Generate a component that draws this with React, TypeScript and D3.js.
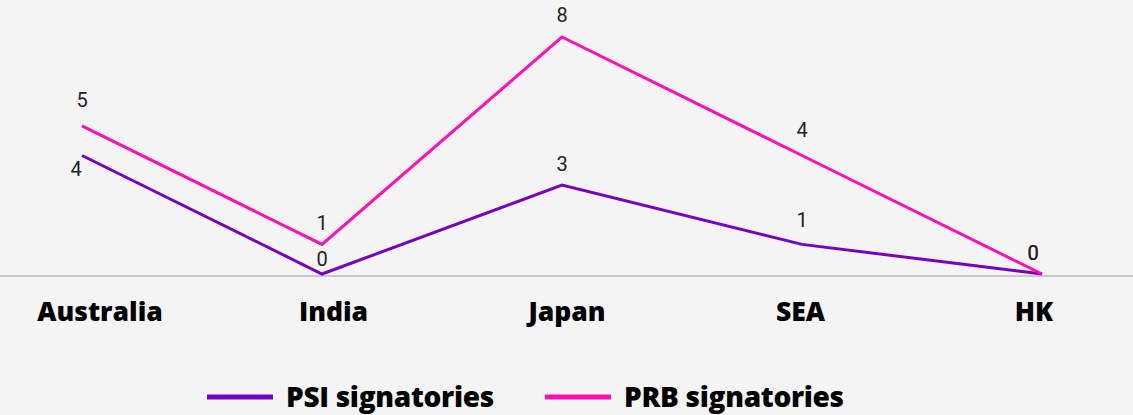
import React from "react";
import * as d3 from "d3";

const categories = ["Australia", "India", "Japan", "SEA", "HK"];
const psiValues = [4, 0, 3, 1, 0];
const prbValues = [5, 1, 8, 4, 0];
const seriesNames = ["PSI signatories", "PRB signatories"];

const W = 1133;
const H = 415;
const colors = ["#7500c0", "#ff0fb4"];
// vertical shift of each value label from its point (px)
const labelDy = [
  [20, -8, -14, -17, -14],
  [-19, -14, -15, -19, -14],
];

const App = () => {
  const x = d3.scalePoint<string>().domain(categories).range([82, 1042]);
  // category names sit a little off the points in the original
  const xLabel = d3.scalePoint<string>().domain(categories).range([100, 1034]);
  const y = d3.scaleLinear().domain([0, 8]).range([274, 37]);
  const line = d3
    .line<number>()
    .x((_, i) => x(categories[i]) as number)
    .y((d) => y(d));

  const series = [psiValues, prbValues];
  const boldFont = "'Open Sans', Roboto, sans-serif";

  return (
    <svg
      width={W}
      height={H}
      style={{ position: "absolute", left: 0, top: 0, fontFamily: "Roboto, sans-serif" }}
    >
      <rect width={W} height={H} fill="#f4f4f4" />
      <line x1={0} x2={W} y1={276} y2={276} stroke="#a09d98" strokeWidth={1.2} />

      {series.map((vals, s) => (
        <path key={s} d={line(vals) || ""} fill="none" stroke={colors[s]} strokeWidth={3} />
      ))}

      {series.map((vals, s) =>
        vals.map((v, i) => (
          <text
            key={`${s}-${i}`}
            x={(x(categories[i]) as number) + (labelDy[s][i] > 0 ? -6 : 0) - (i === 4 ? 9 : 0)}
            y={y(v) + labelDy[s][i]}
            textAnchor="middle"
            fontSize={20}
            fill="#222"
          >
            {v}
          </text>
        ))
      )}

      {categories.map((c) => (
        <text
          key={c}
          x={xLabel(c) as number}
          y={321}
          textAnchor="middle"
          fontSize={26.5}
          fontWeight={800}
          fontFamily={boldFont}
          fill="#000"
        >
          {c}
        </text>
      ))}

      {seriesNames.map((n, i) => {
        const lx = i === 0 ? 207 : 545;
        return (
          <g key={n}>
            <line x1={lx} x2={lx + 66} y1={397} y2={397} stroke={colors[i]} strokeWidth={5} />
            <text
              x={lx + 79}
              y={407}
              fontSize={28}
              fontWeight={800}
              fontFamily={boldFont}
              letterSpacing={-0.3}
              fill="#000"
            >
              {n}
            </text>
          </g>
        );
      })}
    </svg>
  );
};

export default App;
